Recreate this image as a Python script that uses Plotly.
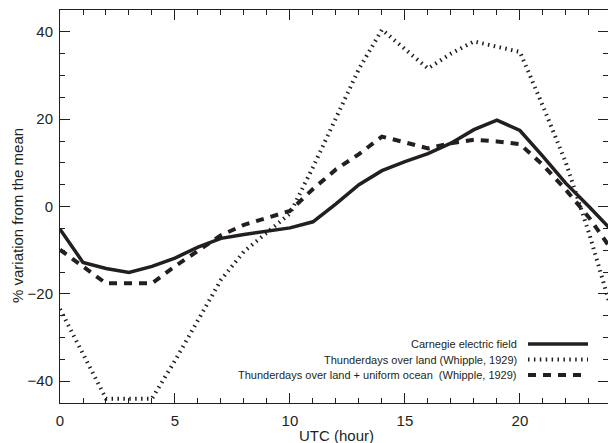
import plotly.graph_objects as go

# ---- data ----
hours = list(range(25))
carnegie = [-5.2, -12.8, -14.2, -15.1, -13.7, -11.8, -9.3, -7.3, -6.4, -5.6, -4.9, -3.5,
            0.6, 5.0, 8.2, 10.3, 12.1, 14.5, 17.6, 19.8, 17.4, 11.5, 5.3, 0.0, -5.5]
land = [-23.5, -33.8, -44.0, -44.0, -44.0, -35.3, -26.0, -16.8, -10.3, -5.8, -1.6, 9.0,
        20.5, 31.5, 40.5, 36.0, 31.6, 35.0, 37.8, 36.6, 35.4, 23.0, 10.0, -6.0, -24.0]
land_ocean = [-9.9, -13.8, -17.6, -17.6, -17.6, -13.7, -10.1, -6.6, -4.2, -2.5, -1.0, 4.0,
              8.5, 12.0, 16.0, 14.7, 13.3, 14.5, 15.3, 14.9, 14.3, 9.5, 3.8, -2.5, -10.0]

legend_labels = ["Carnegie electric field",
                 "Thunderdays over land (Whipple, 1929)",
                 "Thunderdays over land + uniform ocean  (Whipple, 1929)"]

x_title = "UTC (hour)"
y_title = "% variation from the mean"

INK = "#231f20"
FONT = "Liberation Sans, Arial, Helvetica, sans-serif"

styles = [dict(width=3.5, dash="solid"),
          dict(width=4, dash="1.5px,4.4px"),
          dict(width=4, dash="8px,7px")]
series = [carnegie, land, land_ocean]

fig = go.Figure()
for vals, st, name in zip(series, styles, legend_labels):
    fig.add_trace(go.Scatter(x=hours, y=vals, mode="lines", name=name,
                             line=dict(color=INK, width=st["width"], dash=st["dash"]),
                             showlegend=False, hoverinfo="skip"))

# dummy trace so that the right-hand tick axis is created
fig.add_trace(go.Scatter(x=[], y=[], yaxis="y2", showlegend=False))

minor_x = dict(dtick=1, tick0=0, ticklen=5, ticks="inside", tickcolor=INK, showgrid=False)
minor_y = dict(dtick=5, tick0=0, ticklen=5, ticks="inside", tickcolor=INK, showgrid=False)

fig.update_layout(
    width=609, height=443,
    margin=dict(l=60, r=1, t=10, b=40, autoexpand=False),
    plot_bgcolor="white", paper_bgcolor="white",
    font=dict(family=FONT, color=INK, size=15),
    xaxis=dict(range=[0, 23.83], dtick=5, tick0=0, ticks="inside", ticklen=10,
               tickcolor=INK, showline=True, linecolor=INK, linewidth=1, mirror="ticks",
               showgrid=False, zeroline=False, minor=minor_x, automargin=False,
               ticklabelstandoff=4, tickfont=dict(size=15, color=INK)),
    yaxis=dict(range=[-45, 45], dtick=20, tick0=0, ticks="inside", ticklen=10,
               tickcolor=INK, showline=True, linecolor=INK, linewidth=1, mirror=False,
               showgrid=False, zeroline=False, minor=minor_y, automargin=False,
               ticklabelstandoff=3, tickfont=dict(size=15, color=INK)),
    yaxis2=dict(overlaying="y", side="right", matches="y", range=[-45, 45],
                dtick=20, tick0=0, ticks="inside", ticklen=10, tickcolor=INK,
                showticklabels=False, showline=False, showgrid=False, zeroline=False,
                minor=minor_y, automargin=False),
)

x0_px, x1_px = 60, 608
y0_px, y1_px = 10, 403
def px_x(p):
    return (p - x0_px) / (x1_px - x0_px)
def px_y(p):
    return (y1_px - p) / (y1_px - y0_px)

# axis titles
fig.add_annotation(xref="paper", yref="paper", x=px_x(336), y=px_y(435),
                   text=x_title, showarrow=False, xanchor="center", yanchor="middle",
                   font=dict(size=15, color=INK, family=FONT))
fig.add_annotation(xref="paper", yref="paper", x=px_x(17), y=px_y(216),
                   text=y_title, showarrow=False, xanchor="center", yanchor="middle",
                   textangle=-90, font=dict(size=15, color=INK, family=FONT))

# legend (text on the left, line sample on the right, as in the original)
rows_y = [344, 359.5, 375]
sample_ends = [588, 588, 581]
for label, st, ry, se in zip(legend_labels, styles, rows_y, sample_ends):
    fig.add_annotation(xref="paper", yref="paper", x=px_x(519), y=px_y(ry),
                       text=label, showarrow=False, xanchor="right", yanchor="middle",
                       font=dict(size=11, color=INK, family=FONT))
    fig.add_shape(type="line", xref="paper", yref="paper",
                  x0=px_x(528), x1=px_x(se), y0=px_y(ry), y1=px_y(ry),
                  line=dict(color=INK, width=st["width"], dash=st["dash"]))

fig.write_html(
    "out.html",
    config={"displayModeBar": False},
    post_script="document.body.style.margin='0';document.body.style.overflow='hidden';",
)
